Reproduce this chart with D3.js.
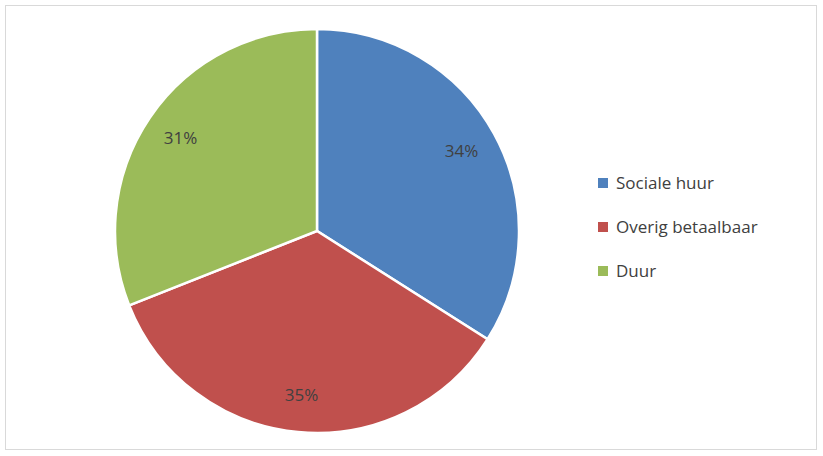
<!DOCTYPE html>
<html><head><meta charset="utf-8">
<script src="https://cdn.jsdelivr.net/npm/d3@7"></script>
<style>body{margin:0;background:#fff}</style>
</head><body>
<svg id="chart" width="823" height="456"></svg>
<script>
const categories = ["Sociale huur", "Overig betaalbaar", "Duur"]
const values = [34, 35, 31]
const colors = ["#4F81BD", "#C0504D", "#9BBB59"]

const svg = d3.select("#chart")
svg.append("rect").attr("x", 5.5).attr("y", 5.5).attr("width", 811).attr("height", 444)
  .attr("fill", "#fff").attr("stroke", "#d9d9d9")

const cx = 317, cy = 231, r = 202
const pie = d3.pie().sort(null)(values)
const arc = d3.arc().innerRadius(0).outerRadius(r)
const labelArc = d3.arc().innerRadius(165).outerRadius(165)
const g = svg.append("g").attr("transform", `translate(${cx},${cy})`)

g.selectAll("path").data(pie).join("path")
  .attr("d", arc)
  .attr("fill", (d, i) => colors[i])
  .attr("stroke", "#fff").attr("stroke-width", 2.5)

g.selectAll("text").data(pie).join("text")
  .attr("transform", d => `translate(${labelArc.centroid(d)})`)
  .attr("text-anchor", "middle").attr("dy", "0.35em")
  .attr("font-family", "Open Sans, sans-serif").attr("font-size", 17).attr("fill", "#404040")
  .text(d => d.data + "%")

const legend = svg.append("g").selectAll("g").data(categories).join("g")
  .attr("transform", (d, i) => `translate(598,${183 + i * 44})`)
legend.append("rect").attr("x", 0).attr("y", -5).attr("width", 10).attr("height", 10)
  .attr("fill", (d, i) => colors[i])
legend.append("text").attr("x", 18).attr("dy", "0.35em")
  .attr("font-family", "Open Sans, sans-serif").attr("font-size", 17).attr("fill", "#404040")
  .text(d => d)
</script>
</body></html>
